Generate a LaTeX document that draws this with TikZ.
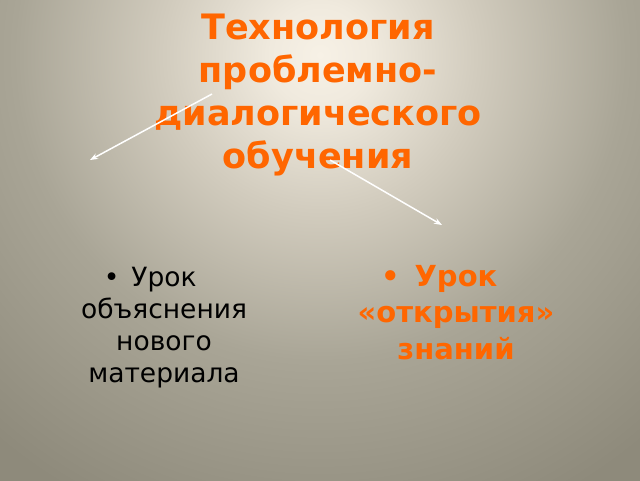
\documentclass[tikz,border=0pt]{standalone}
\usepackage{fontspec}
\setmainfont{DejaVu Sans}
\usetikzlibrary{arrows.meta}
\definecolor{ttlorange}{RGB}{255,102,0}
\definecolor{bgA}{RGB}{247,241,230}
\definecolor{bgB}{RGB}{240,234,222}
\definecolor{bgC}{RGB}{210,204,190}
\definecolor{bgD}{RGB}{169,165,150}
\definecolor{bgE}{RGB}{142,138,123}
\pgfdeclareradialshading{bgshade}{\pgfpoint{0bp}{0bp}}{color(0bp)=(bgA); color(50bp)=(bgB); color(155bp)=(bgC); color(305bp)=(bgD); color(500bp)=(bgE); color(800bp)=(bgE)}
\tikzset{
  titletxt/.style={inner sep=0pt, align=center, text=ttlorange, font=\bfseries\fontsize{35}{42.7}\selectfont},
  lefttxt/.style={inner sep=0pt, align=center, text=black, font=\fontsize{26.5}{32}\selectfont},
  righttxt/.style={inner sep=0pt, align=center, text=ttlorange, font=\bfseries\fontsize{29}{36.5}\selectfont},
  arr/.style={draw=white, line width=1.5pt, -{Stealth[length=8pt,width=6pt]}}
}
\begin{document}
\begin{tikzpicture}[x=1pt,y=-1pt]
\useasboundingbox (0,0) rectangle (640,480);
\begin{scope}
  \clip (0,0) rectangle (640,480);
  \node[inner sep=0pt] (bg) at (320,55) {\pgfuseshading{bgshade}};
\end{scope}
\node[titletxt, anchor=base] (title) at (318,168) {Технология\\проблемно-\\диалогического\\обучения};
\node[lefttxt, anchor=base] (left) at (164,382) {\llap{\textbullet\hspace{12pt}}Урок\\объяснения\\нового\\материала};
\node[righttxt, anchor=base] (right) at (456,359) {\llap{\textbullet\hspace{15pt}}Урок\\«открытия»\\знаний};
\coordinate (a1s) at (212,94);
\coordinate (a1e) at (90,160);
\coordinate (a2s) at (330,160);
\coordinate (a2e) at (442,225);
\draw[arr] (a1s) -- (a1e);
\draw[arr] (a2s) -- (a2e);
\end{tikzpicture}
\end{document}
